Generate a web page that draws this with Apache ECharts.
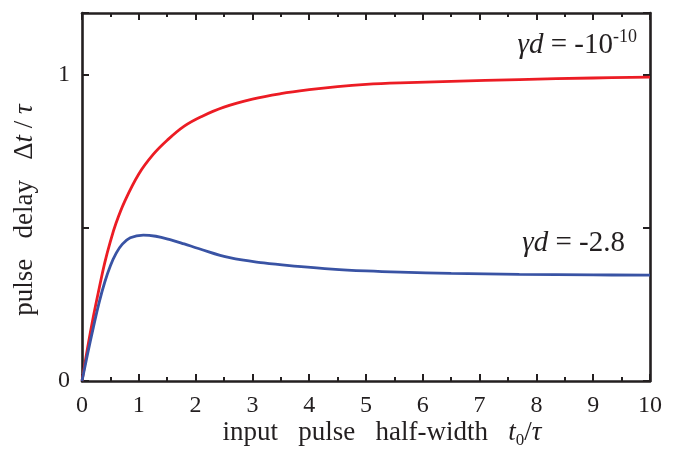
<!DOCTYPE html>
<html>
<head>
<meta charset="utf-8">
<script src="https://cdn.jsdelivr.net/npm/echarts@6/dist/echarts.min.js"></script>
<style>
  html, body { margin: 0; padding: 0; background: #fff; }
  #chart { width: 685px; height: 453px; }
</style>
</head>
<body>
<div id="chart"></div>
<script>
// 读图得到的数据 (x = t0/τ, y = Δt/τ)
var redX = [0, 0.1, 0.2, 0.3, 0.4, 0.5, 0.6, 0.75, 1.0, 1.25, 1.5, 1.8, 2.1, 2.5, 3.0, 3.5, 4.0, 4.5, 5.0, 5.6, 6.5, 7.7, 9, 10];
var redY = [0, 0.11, 0.21, 0.3, 0.385, 0.455, 0.515, 0.585, 0.675, 0.738, 0.785, 0.831, 0.862, 0.893, 0.919, 0.937, 0.95, 0.96, 0.967, 0.972, 0.977, 0.983, 0.988, 0.991];
var blueX = [0, 0.1, 0.2, 0.3, 0.4, 0.5, 0.6, 0.7, 0.85, 1.08, 1.3, 1.55, 1.8, 2.05, 2.6, 3.2, 3.8, 4.4, 5.0, 5.6, 6.5, 7.7, 9, 10];
var blueY = [0, 0.09, 0.175, 0.255, 0.322, 0.376, 0.416, 0.444, 0.467, 0.476, 0.472, 0.461, 0.447, 0.432, 0.402, 0.385, 0.374, 0.365, 0.359, 0.355, 0.351, 0.348, 0.346, 0.345];
var yLabels = ['0', '1'];   // 只显示这两个刻度标签

var font = 'Liberation Serif';
var ink = '#231f20';

function pairs(xs, ys) {
    return xs.map(function (x, i) { return [x, ys[i]]; });
}

var chart = echarts.init(document.getElementById('chart'));

var tickStyle = { show: true, inside: true, length: 7, lineStyle: { color: ink, width: 2 } };
var minorStyle = { show: true, splitNumber: 2, length: 4, lineStyle: { color: ink, width: 2 } };
var lineStyle = { show: true, onZero: false, lineStyle: { color: ink, width: 2.6 } };

var option = {
    animation: false,
    backgroundColor: '#fff',
    grid: { left: 82, right: 35, top: 13, bottom: 72 },
    xAxis: [{
        type: 'value', min: 0, max: 10, interval: 1,
        axisLine: lineStyle, axisTick: tickStyle, minorTick: minorStyle,
        splitLine: { show: false },
        axisLabel: { color: ink, fontFamily: font, fontSize: 24, margin: 13 }
    }, {
        type: 'value', min: 0, max: 10, interval: 1, position: 'top',
        axisLine: lineStyle, axisTick: tickStyle, minorTick: minorStyle,
        splitLine: { show: false }, axisLabel: { show: false }
    }],
    yAxis: [{
        type: 'value', min: 0, max: 1.2, interval: 0.5,
        axisLine: lineStyle, axisTick: tickStyle,
        splitLine: { show: false },
        axisLabel: {
            color: ink, fontFamily: font, fontSize: 24, margin: 12,
            formatter: function (v) {
                var s = String(v);
                return yLabels.indexOf(s) >= 0 ? s : '';
            }
        }
    }, {
        type: 'value', min: 0, max: 1.2, interval: 0.5, position: 'right',
        axisLine: lineStyle, axisTick: tickStyle,
        splitLine: { show: false }, axisLabel: { show: false }
    }],
    graphic: [{
        // x 轴标题
        type: 'text', x: 382, y: 433,
        style: {
            text: '{n|input   pulse   half-width   }{i|t}{s|0}{n|/}{i|τ}',
            align: 'center', verticalAlign: 'middle',
            textAlign: 'center', textVerticalAlign: 'middle',
            rich: {
                n: { fontFamily: font, fontSize: 27, fill: ink },
                i: { fontFamily: font, fontSize: 27, fontStyle: 'italic', fill: ink },
                s: { fontFamily: font, fontSize: 17, fill: ink, padding: [16, 0, 0, 0] }
            }
        }
    }, {
        // y 轴标题
        type: 'text', x: 25, y: 210, rotation: Math.PI / 2,
        style: {
            text: '{n|pulse   delay   Δ}{i|t}{n| / }{i|τ}',
            align: 'center', verticalAlign: 'middle',
            textAlign: 'center', textVerticalAlign: 'middle',
            rich: {
                n: { fontFamily: font, fontSize: 27, fill: ink },
                i: { fontFamily: font, fontSize: 27, fontStyle: 'italic', fill: ink }
            }
        }
    }, {
        type: 'text', x: 637, y: 45,
        style: {
            text: '{i|γd}{n| = -10}{p|-10}',
            align: 'right', verticalAlign: 'middle',
            textAlign: 'right', textVerticalAlign: 'middle',
            rich: {
                i: { fontFamily: font, fontSize: 29, fontStyle: 'italic', fill: ink },
                n: { fontFamily: font, fontSize: 29, fill: ink },
                p: { fontFamily: font, fontSize: 18, fill: ink, padding: [0, 0, 16, 0] }
            }
        }
    }, {
        type: 'text', x: 625, y: 243,
        style: {
            text: '{i|γd}{n| = -2.8}',
            align: 'right', verticalAlign: 'middle',
            textAlign: 'right', textVerticalAlign: 'middle',
            rich: {
                i: { fontFamily: font, fontSize: 29, fontStyle: 'italic', fill: ink },
                n: { fontFamily: font, fontSize: 29, fill: ink }
            }
        }
    }],
    series: [{
        name: 'γd = -1e-10', type: 'line', smooth: 0.4, showSymbol: false,
        data: pairs(redX, redY),
        lineStyle: { color: '#ec1c24', width: 2.8 }
    }, {
        name: 'γd = -2.8', type: 'line', smooth: 0.4, showSymbol: false,
        data: pairs(blueX, blueY),
        lineStyle: { color: '#3953a4', width: 2.8 }
    }]
};

chart.setOption(option);
</script>
</body>
</html>
